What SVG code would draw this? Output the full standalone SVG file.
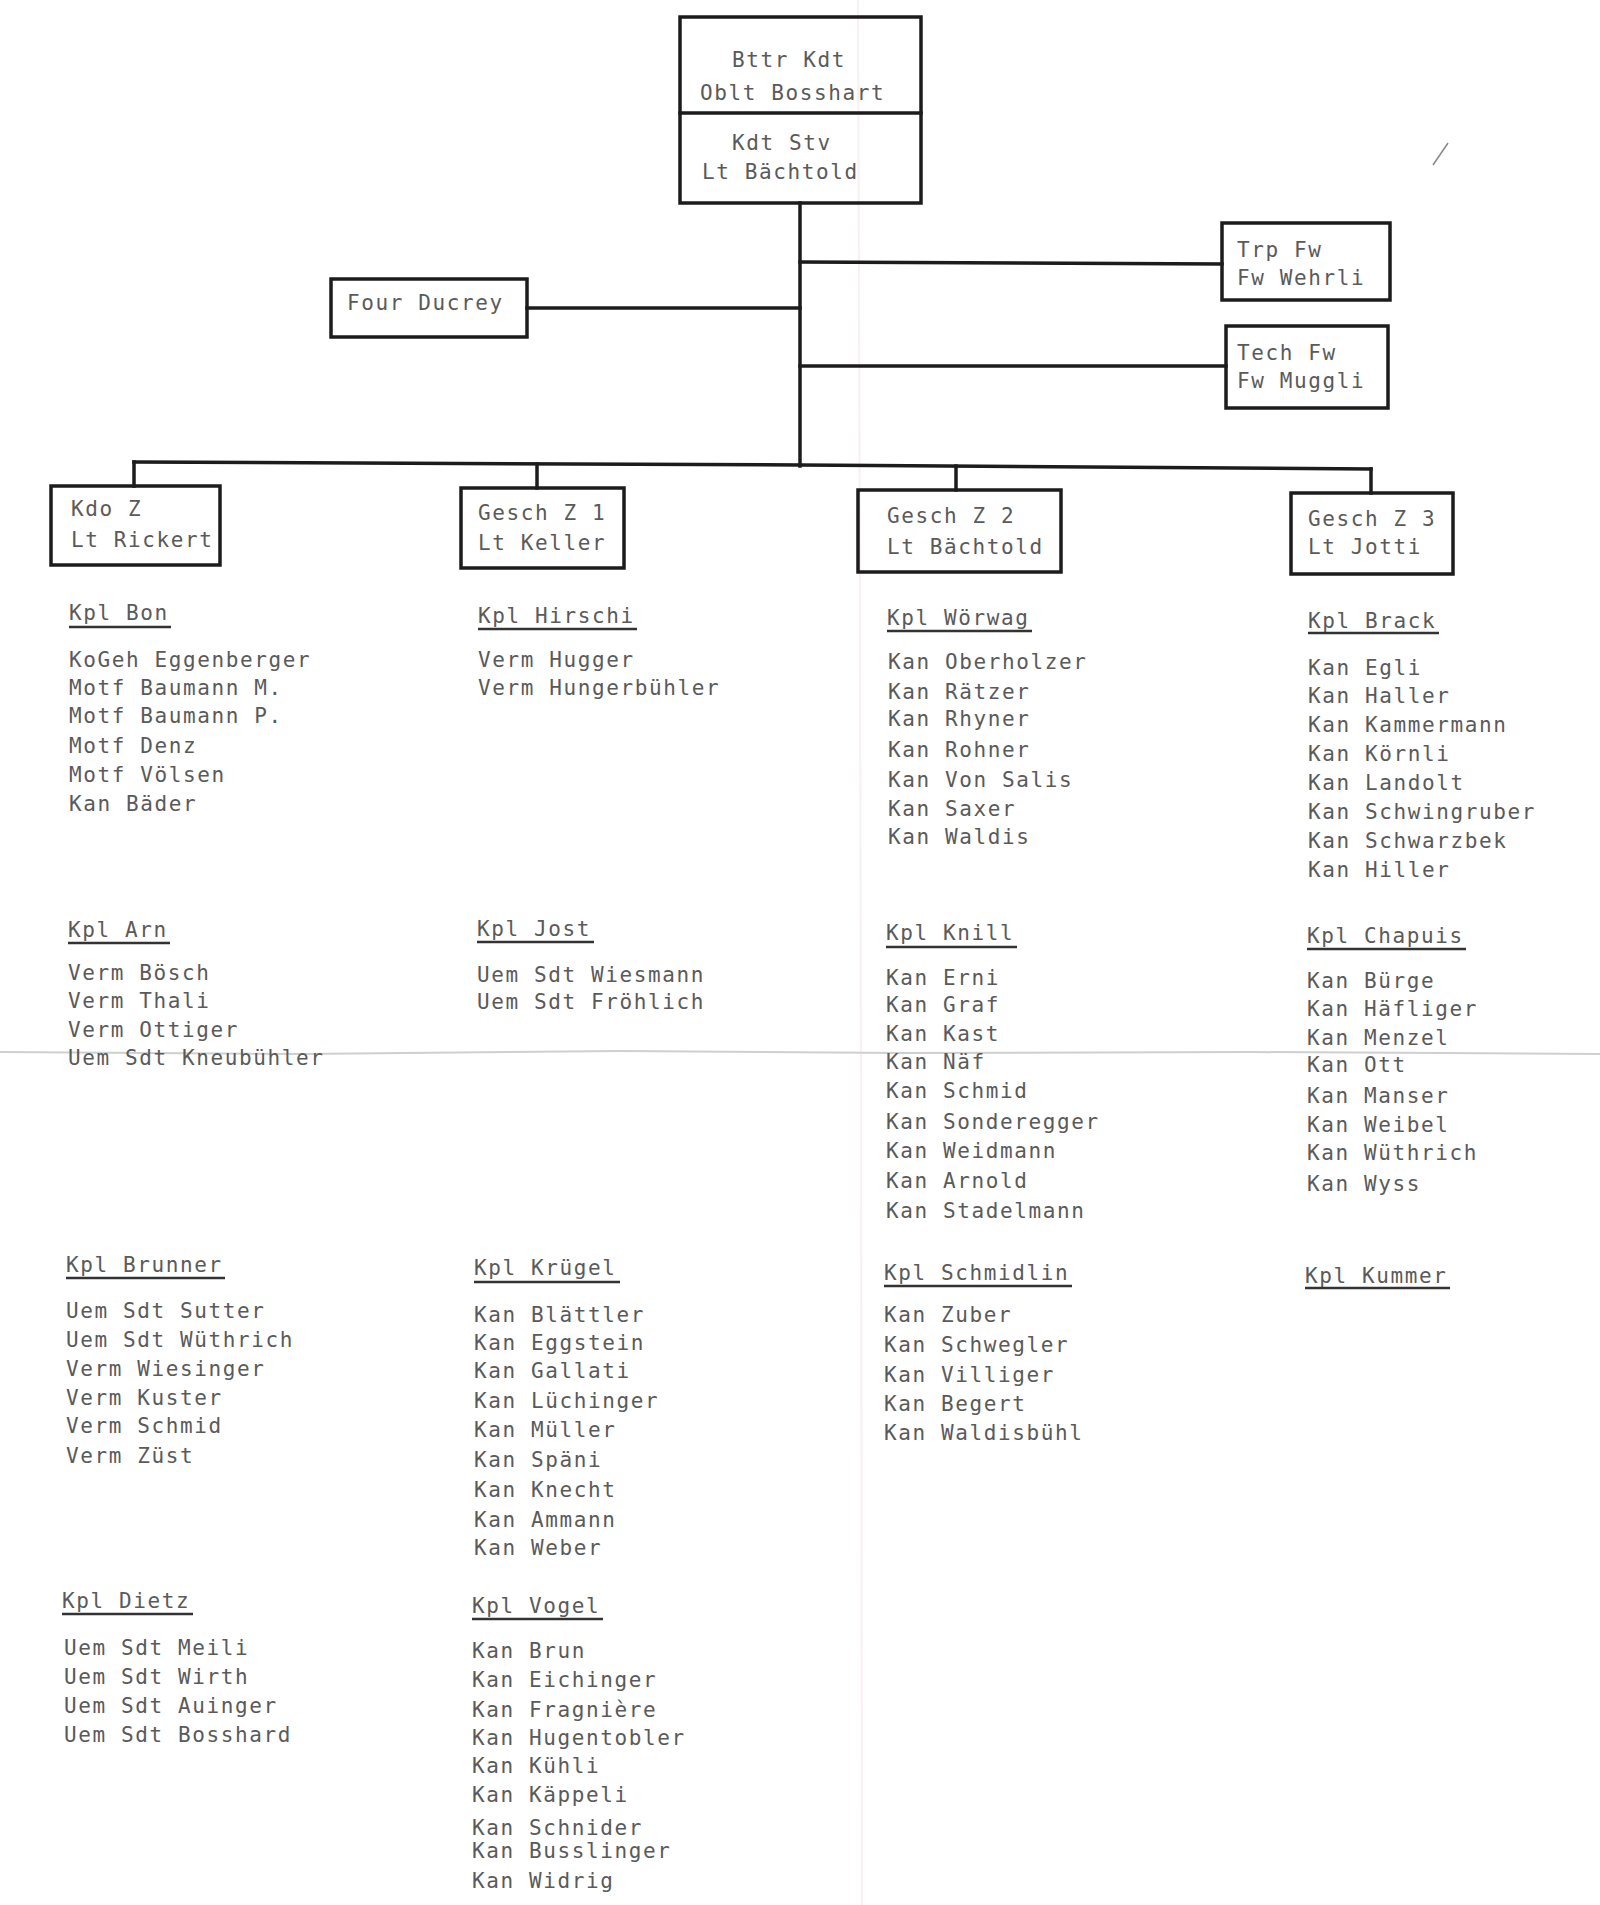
<svg xmlns="http://www.w3.org/2000/svg" width="1600" height="1905" viewBox="0 0 1600 1905">
<style>
  text { font-family: "DejaVu Sans Mono", "Liberation Mono", monospace; font-size: 21px; letter-spacing: 1.6px; fill: #5a5a5a; }
  .box { fill: none; stroke: #1c1c1c; stroke-width: 3.5; }
  .ln { fill: none; stroke: #1c1c1c; stroke-width: 3.5; stroke-linecap: square; }
  .ul { stroke: #333; stroke-width: 2.5; }
  .fold { fill: none; stroke: #cfcfcf; stroke-width: 2; }
  .crease { fill: none; stroke: #f8f0f1; stroke-width: 2; }
</style>
<rect x="0" y="0" width="1600" height="1905" fill="#ffffff"/>

<g id="paper-marks">
  <path class="crease" d="M858 0 L860 600 L861 1100 L862 1905"/>
  <path class="fold" d="M0 1052 L300 1054 L620 1051 L900 1053 L1250 1052 L1600 1054"/>
  <path d="M1448 143 L1433 165" stroke="#888" stroke-width="1.5" fill="none"/>
</g>

<g id="connectors">
  <path class="ln" d="M800 203 V466"/>
  <path class="ln" d="M527 308 H800"/>
  <path class="ln" d="M800 262 L1222 264"/>
  <path class="ln" d="M800 366 H1226"/>
  <path class="ln" d="M134 462 L800 465 L1371 469"/>
  <path class="ln" d="M134 462 V486"/>
  <path class="ln" d="M537 464 V488"/>
  <path class="ln" d="M956 466 V490"/>
  <path class="ln" d="M1371 469 V493"/>
</g>

<g id="node-bttr-kdt">
  <rect class="box" x="680" y="17" width="241" height="186"/>
  <line class="ln" x1="680" y1="113" x2="921" y2="113"/>
  <text x="732" y="67">Bttr Kdt</text>
  <text x="700" y="100">Oblt Bosshart</text>
  <text x="732" y="150">Kdt Stv</text>
  <text x="702" y="179">Lt Bächtold</text>
</g>

<g id="node-four">
  <rect class="box" x="331" y="279" width="196" height="58"/>
  <text x="347" y="310">Four Ducrey</text>
</g>

<g id="node-trp-fw">
  <rect class="box" x="1222" y="223" width="168" height="77"/>
  <text x="1237" y="257">Trp Fw</text>
  <text x="1237" y="285">Fw Wehrli</text>
</g>

<g id="node-tech-fw">
  <rect class="box" x="1226" y="326" width="162" height="82"/>
  <text x="1237" y="360">Tech Fw</text>
  <text x="1237" y="388">Fw Muggli</text>
</g>

<g id="node-kdo-z">
  <rect class="box" x="51" y="486" width="169" height="79"/>
  <text x="71" y="516">Kdo Z</text>
  <text x="71" y="547">Lt Rickert</text>
</g>

<g id="node-gesch-z1">
  <rect class="box" x="461" y="488" width="163" height="80"/>
  <text x="478" y="520">Gesch Z 1</text>
  <text x="478" y="550">Lt Keller</text>
</g>

<g id="node-gesch-z2">
  <rect class="box" x="858" y="490" width="203" height="82"/>
  <text x="887" y="523">Gesch Z 2</text>
  <text x="887" y="554">Lt Bächtold</text>
</g>

<g id="node-gesch-z3">
  <rect class="box" x="1291" y="493" width="162" height="81"/>
  <text x="1308" y="526">Gesch Z 3</text>
  <text x="1308" y="554">Lt Jotti</text>
</g>

<!-- Column 1 -->
<g id="group-kpl-bon">
  <text x="69" y="620">Kpl Bon</text>
  <line class="ul" x1="69" y1="627" x2="171" y2="627"/>
  <text x="69" y="667">KoGeh Eggenberger</text>
  <text x="69" y="695">Motf Baumann M.</text>
  <text x="69" y="723">Motf Baumann P.</text>
  <text x="69" y="753">Motf Denz</text>
  <text x="69" y="782">Motf Völsen</text>
  <text x="69" y="811">Kan Bäder</text>
</g>

<g id="group-kpl-arn">
  <text x="68" y="937">Kpl Arn</text>
  <line class="ul" x1="68" y1="943" x2="170" y2="943"/>
  <text x="68" y="980">Verm Bösch</text>
  <text x="68" y="1008">Verm Thali</text>
  <text x="68" y="1037">Verm Ottiger</text>
  <text x="68" y="1065">Uem Sdt Kneubühler</text>
</g>

<g id="group-kpl-brunner">
  <text x="66" y="1272">Kpl Brunner</text>
  <line class="ul" x1="66" y1="1278" x2="225" y2="1278"/>
  <text x="66" y="1318">Uem Sdt Sutter</text>
  <text x="66" y="1347">Uem Sdt Wüthrich</text>
  <text x="66" y="1376">Verm Wiesinger</text>
  <text x="66" y="1405">Verm Kuster</text>
  <text x="66" y="1433">Verm Schmid</text>
  <text x="66" y="1463">Verm Züst</text>
</g>

<g id="group-kpl-dietz">
  <text x="62" y="1608">Kpl Dietz</text>
  <line class="ul" x1="62" y1="1614" x2="193" y2="1614"/>
  <text x="64" y="1655">Uem Sdt Meili</text>
  <text x="64" y="1684">Uem Sdt Wirth</text>
  <text x="64" y="1713">Uem Sdt Auinger</text>
  <text x="64" y="1742">Uem Sdt Bosshard</text>
</g>

<!-- Column 2 -->
<g id="group-kpl-hirschi">
  <text x="478" y="623">Kpl Hirschi</text>
  <line class="ul" x1="478" y1="629" x2="637" y2="629"/>
  <text x="478" y="667">Verm Hugger</text>
  <text x="478" y="695">Verm Hungerbühler</text>
</g>

<g id="group-kpl-jost">
  <text x="477" y="936">Kpl Jost</text>
  <line class="ul" x1="477" y1="942" x2="594" y2="942"/>
  <text x="477" y="982">Uem Sdt Wiesmann</text>
  <text x="477" y="1009">Uem Sdt Fröhlich</text>
</g>

<g id="group-kpl-kruegel">
  <text x="474" y="1275">Kpl Krügel</text>
  <line class="ul" x1="474" y1="1282" x2="620" y2="1282"/>
  <text x="474" y="1322">Kan Blättler</text>
  <text x="474" y="1350">Kan Eggstein</text>
  <text x="474" y="1378">Kan Gallati</text>
  <text x="474" y="1408">Kan Lüchinger</text>
  <text x="474" y="1437">Kan Müller</text>
  <text x="474" y="1467">Kan Späni</text>
  <text x="474" y="1497">Kan Knecht</text>
  <text x="474" y="1527">Kan Ammann</text>
  <text x="474" y="1555">Kan Weber</text>
</g>

<g id="group-kpl-vogel">
  <text x="472" y="1613">Kpl Vogel</text>
  <line class="ul" x1="472" y1="1619" x2="603" y2="1619"/>
  <text x="472" y="1658">Kan Brun</text>
  <text x="472" y="1687">Kan Eichinger</text>
  <text x="472" y="1717">Kan Fragnière</text>
  <text x="472" y="1745">Kan Hugentobler</text>
  <text x="472" y="1773">Kan Kühli</text>
  <text x="472" y="1802">Kan Käppeli</text>
  <text x="472" y="1835">Kan Schnider</text>
  <text x="472" y="1858">Kan Busslinger</text>
  <text x="472" y="1888">Kan Widrig</text>
</g>

<!-- Column 3 -->
<g id="group-kpl-woerwag">
  <text x="887" y="625">Kpl Wörwag</text>
  <line class="ul" x1="887" y1="631" x2="1032" y2="631"/>
  <text x="888" y="669">Kan Oberholzer</text>
  <text x="888" y="699">Kan Rätzer</text>
  <text x="888" y="726">Kan Rhyner</text>
  <text x="888" y="757">Kan Rohner</text>
  <text x="888" y="787">Kan Von Salis</text>
  <text x="888" y="816">Kan Saxer</text>
  <text x="888" y="844">Kan Waldis</text>
</g>

<g id="group-kpl-knill">
  <text x="886" y="940">Kpl Knill</text>
  <line class="ul" x1="886" y1="947" x2="1017" y2="947"/>
  <text x="886" y="985">Kan Erni</text>
  <text x="886" y="1012">Kan Graf</text>
  <text x="886" y="1041">Kan Kast</text>
  <text x="886" y="1069">Kan Näf</text>
  <text x="886" y="1098">Kan Schmid</text>
  <text x="886" y="1129">Kan Sonderegger</text>
  <text x="886" y="1158">Kan Weidmann</text>
  <text x="886" y="1188">Kan Arnold</text>
  <text x="886" y="1218">Kan Stadelmann</text>
</g>

<g id="group-kpl-schmidlin">
  <text x="884" y="1280">Kpl Schmidlin</text>
  <line class="ul" x1="884" y1="1286" x2="1072" y2="1286"/>
  <text x="884" y="1322">Kan Zuber</text>
  <text x="884" y="1352">Kan Schwegler</text>
  <text x="884" y="1382">Kan Villiger</text>
  <text x="884" y="1411">Kan Begert</text>
  <text x="884" y="1440">Kan Waldisbühl</text>
</g>

<!-- Column 4 -->
<g id="group-kpl-brack">
  <text x="1308" y="628">Kpl Brack</text>
  <line class="ul" x1="1308" y1="633" x2="1439" y2="633"/>
  <text x="1308" y="675">Kan Egli</text>
  <text x="1308" y="703">Kan Haller</text>
  <text x="1308" y="732">Kan Kammermann</text>
  <text x="1308" y="761">Kan Körnli</text>
  <text x="1308" y="790">Kan Landolt</text>
  <text x="1308" y="819">Kan Schwingruber</text>
  <text x="1308" y="848">Kan Schwarzbek</text>
  <text x="1308" y="877">Kan Hiller</text>
</g>

<g id="group-kpl-chapuis">
  <text x="1307" y="943">Kpl Chapuis</text>
  <line class="ul" x1="1307" y1="949" x2="1466" y2="949"/>
  <text x="1307" y="988">Kan Bürge</text>
  <text x="1307" y="1016">Kan Häfliger</text>
  <text x="1307" y="1045">Kan Menzel</text>
  <text x="1307" y="1072">Kan Ott</text>
  <text x="1307" y="1103">Kan Manser</text>
  <text x="1307" y="1132">Kan Weibel</text>
  <text x="1307" y="1160">Kan Wüthrich</text>
  <text x="1307" y="1191">Kan Wyss</text>
</g>

<g id="group-kpl-kummer">
  <text x="1305" y="1283">Kpl Kummer</text>
  <line class="ul" x1="1305" y1="1288" x2="1450" y2="1288"/>
</g>
</svg>
